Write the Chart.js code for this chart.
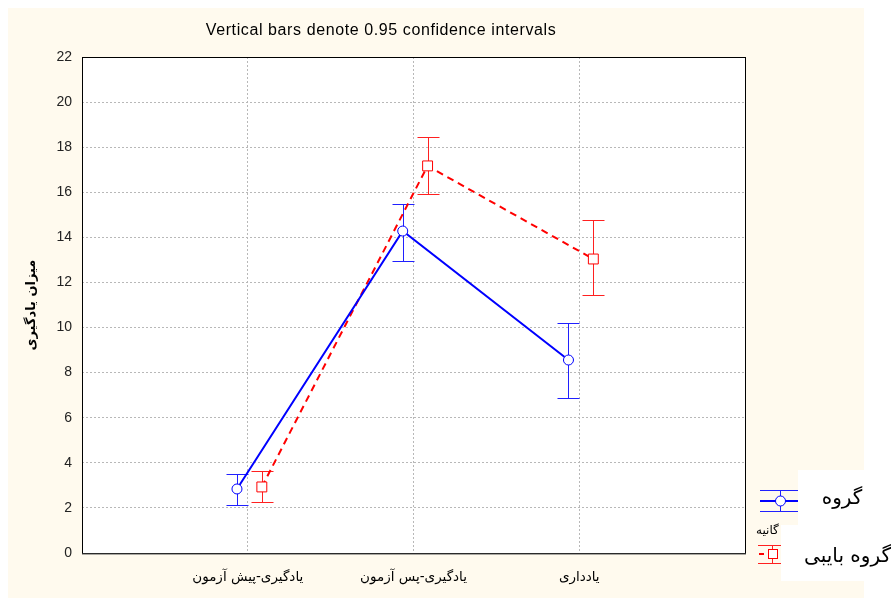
<!DOCTYPE html>
<html>
<head>
<meta charset="utf-8">
<script src="https://cdn.jsdelivr.net/npm/chart.js@4.4.1/dist/chart.umd.min.js"></script>
<style>
  body { margin: 0; background: #ffffff; }
  #wrap { width: 891px; height: 598px; }
</style>
</head>
<body>
<div id="wrap"><canvas id="chart" width="891" height="598"></canvas></div>
<script>
        const categories = ['یادگیری-پیش آزمون', 'یادگیری-پس آزمون', 'یادداری'];
        const yTicks = [0, 2, 4, 6, 8, 10, 12, 14, 16, 18, 20, 22];

        const ganyeMean = [2.84, 14.28, 8.56];
        const ganyeLow = [2.13, 12.95, 6.88];
        const ganyeHigh = [3.50, 15.48, 10.20];

        const babiMean = [2.93, 17.17, 13.04];
        const babiLow = [2.26, 15.92, 11.44];
        const babiHigh = [3.64, 18.45, 14.77];

        const titleText = 'Vertical bars denote 0.95 confidence intervals';
        const yTitle = 'میزان یادگیری';

        const BLUE = '#0000ff';
        const RED = '#ff0000';
        const CREAM = '#fffaee';
        const shiftA = -0.065, shiftB = 0.085;

        function points(mean, shift) {
            return mean.map((v, i) => ({ x: i + 1 + shift, y: v }));
        }

        // whiskers drawn before the points so the white markers sit on top
        const errorBars = {
            id: 'errorBars',
            beforeDatasetsDraw(chart) {
                const ctx = chart.ctx, xs = chart.scales.x, ys = chart.scales.y;
                const sets = [[ganyeLow, ganyeHigh, shiftA, '#2020ff'], [babiLow, babiHigh, shiftB, '#ff2020']];
                ctx.save();
                ctx.lineWidth = 1;
                sets.forEach(([lo, hi, shift, col]) => {
                    ctx.strokeStyle = col;
                    lo.forEach((l, i) => {
                        const x = Math.round(xs.getPixelForValue(i + 1 + shift)) + 0.5;
                        const y1 = Math.round(ys.getPixelForValue(l)) + 0.5;
                        const y2 = Math.round(ys.getPixelForValue(hi[i])) + 0.5;
                        ctx.beginPath();
                        ctx.moveTo(x, y1); ctx.lineTo(x, y2);
                        ctx.moveTo(x - 11, y1); ctx.lineTo(x + 11, y1);
                        ctx.moveTo(x - 11, y2); ctx.lineTo(x + 11, y2);
                        ctx.stroke();
                    });
                });
                ctx.restore();
            }
        };

        const decor = {
            id: 'decor',
            beforeDraw(chart) {
                const ctx = chart.ctx, a = chart.chartArea;
                ctx.save();
                ctx.fillStyle = '#ffffff';
                ctx.fillRect(0, 0, chart.width, chart.height);
                ctx.fillStyle = CREAM;
                ctx.fillRect(8, 8, 856, 590);
                ctx.fillStyle = '#ffffff';
                ctx.fillRect(a.left, a.top, a.right - a.left, a.bottom - a.top);
                ctx.restore();
            },
            afterDraw(chart) {
                const ctx = chart.ctx, a = chart.chartArea;
                ctx.save();
                // frame
                ctx.strokeStyle = '#000000';
                ctx.lineWidth = 1;
                ctx.strokeRect(a.left + 0.5, a.top + 0.5, a.right - a.left, a.bottom - a.top);
                ctx.strokeStyle = '#555555';
                ctx.beginPath();
                ctx.moveTo(a.left, a.bottom + 1); ctx.lineTo(a.right + 1, a.bottom + 1);
                ctx.stroke();

                // title
                ctx.fillStyle = '#000000';
                ctx.font = '16px "Liberation Sans", Arial, sans-serif';
                ctx.letterSpacing = '0.6px';
                ctx.textAlign = 'center';
                ctx.textBaseline = 'middle';
                ctx.fillText(titleText, 381, 31);
                ctx.letterSpacing = '0px';

                // y axis title
                ctx.save();
                ctx.translate(32, (a.top + a.bottom) / 2);
                ctx.rotate(-Math.PI / 2);
                ctx.font = 'bold 13px "DejaVu Sans", sans-serif';
                ctx.fillText(yTitle, 0, 0);
                ctx.restore();

                // legend symbols
                ctx.lineWidth = 1;
                ctx.strokeStyle = '#2020ff';
                ctx.beginPath();
                ctx.moveTo(760, 490.5); ctx.lineTo(799, 490.5);
                ctx.moveTo(760, 511.5); ctx.lineTo(799, 511.5);
                ctx.moveTo(780.5, 490); ctx.lineTo(780.5, 512);
                ctx.stroke();
                ctx.lineWidth = 2;
                ctx.strokeStyle = BLUE;
                ctx.beginPath();
                ctx.moveTo(760, 501); ctx.lineTo(799, 501);
                ctx.stroke();
                ctx.lineWidth = 1;
                ctx.fillStyle = '#ffffff';
                ctx.beginPath();
                ctx.arc(780.5, 501, 5, 0, Math.PI * 2);
                ctx.fill(); ctx.stroke();

                ctx.strokeStyle = '#ff2020';
                ctx.beginPath();
                ctx.moveTo(758, 545.5); ctx.lineTo(782, 545.5);
                ctx.moveTo(758, 563.5); ctx.lineTo(782, 563.5);
                ctx.moveTo(772.5, 545); ctx.lineTo(772.5, 564);
                ctx.stroke();
                ctx.lineWidth = 2;
                ctx.strokeStyle = RED;
                ctx.beginPath();
                ctx.moveTo(759, 554); ctx.lineTo(764, 554);
                ctx.stroke();
                ctx.lineWidth = 1;
                ctx.fillStyle = '#ffffff';
                ctx.fillRect(768, 549, 9, 9);
                ctx.strokeRect(768.5, 549.5, 9, 9);

                ctx.fillStyle = '#000000';
                ctx.font = '12px "DejaVu Sans", sans-serif';
                ctx.textAlign = 'left';
                ctx.fillText('گانیه', 756, 531);

                // white label boxes
                ctx.fillStyle = '#ffffff';
                ctx.fillRect(798, 470, 93, 55);
                ctx.fillRect(781, 525, 110, 56);
                ctx.fillStyle = '#000000';
                ctx.font = '20px "DejaVu Sans", sans-serif';
                ctx.textAlign = 'center';
                ctx.fillText('گروه', 842, 499);
                ctx.textAlign = 'right';
                ctx.fillText('گروه بایبی', 891, 557);
                ctx.restore();
            }
        };

        new Chart(document.getElementById('chart'), {
            type: 'scatter',
            data: {
                datasets: [
                    {
                        label: 'گروه گانیه',
                        data: points(ganyeMean, shiftA),
                        showLine: true,
                        borderColor: BLUE,
                        borderWidth: 2,
                        pointStyle: 'circle',
                        pointRadius: 5,
                        pointBorderWidth: 1,
                        pointBackgroundColor: '#ffffff',
                        pointBorderColor: BLUE
                    },
                    {
                        label: 'گروه بایبی',
                        data: points(babiMean, shiftB),
                        showLine: true,
                        borderColor: RED,
                        borderWidth: 2,
                        borderDash: [7, 5],
                        pointStyle: 'rect',
                        pointRadius: 7,
                        pointBorderWidth: 1,
                        pointBackgroundColor: '#ffffff',
                        pointBorderColor: RED
                    }
                ]
            },
            options: {
                responsive: false,
                animation: false,
                layout: { padding: { left: 0, top: 57, right: 146, bottom: 0 } },
                plugins: { legend: { display: false }, tooltip: { enabled: false } },
                scales: {
                    x: {
                        type: 'linear',
                        min: 0, max: 4,
                        afterFit(s) { s.height = 45; },
                        afterBuildTicks(s) { s.ticks = [0, 1, 2, 3, 4].map(v => ({ value: v })); },
                        ticks: {
                            padding: 16,
                            color: '#000000',
                            font: { family: '"DejaVu Sans", sans-serif', size: 13.5 },
                            callback: v => categories[v - 1] || ''
                        },
                        grid: {
                            drawTicks: false,
                            color: c => (c.tick && (c.tick.value === 0 || c.tick.value === 4)) ? 'rgba(0,0,0,0)' : '#b8b8b8'
                        },
                        border: { display: false, dash: [2, 2] }
                    },
                    y: {
                        min: 0, max: 22,
                        afterFit(s) { s.width = 82; },
                        afterBuildTicks(s) { s.ticks = yTicks.map(v => ({ value: v })); },
                        ticks: {
                            padding: 10,
                            color: '#222222',
                            font: { family: '"Liberation Sans Narrow", "Liberation Sans", sans-serif', size: 14 }
                        },
                        grid: { drawTicks: false, color: '#b8b8b8' },
                        border: { display: false, dash: [2, 2] }
                    }
                }
            },
            plugins: [decor, errorBars]
        });
</script>
</body>
</html>
